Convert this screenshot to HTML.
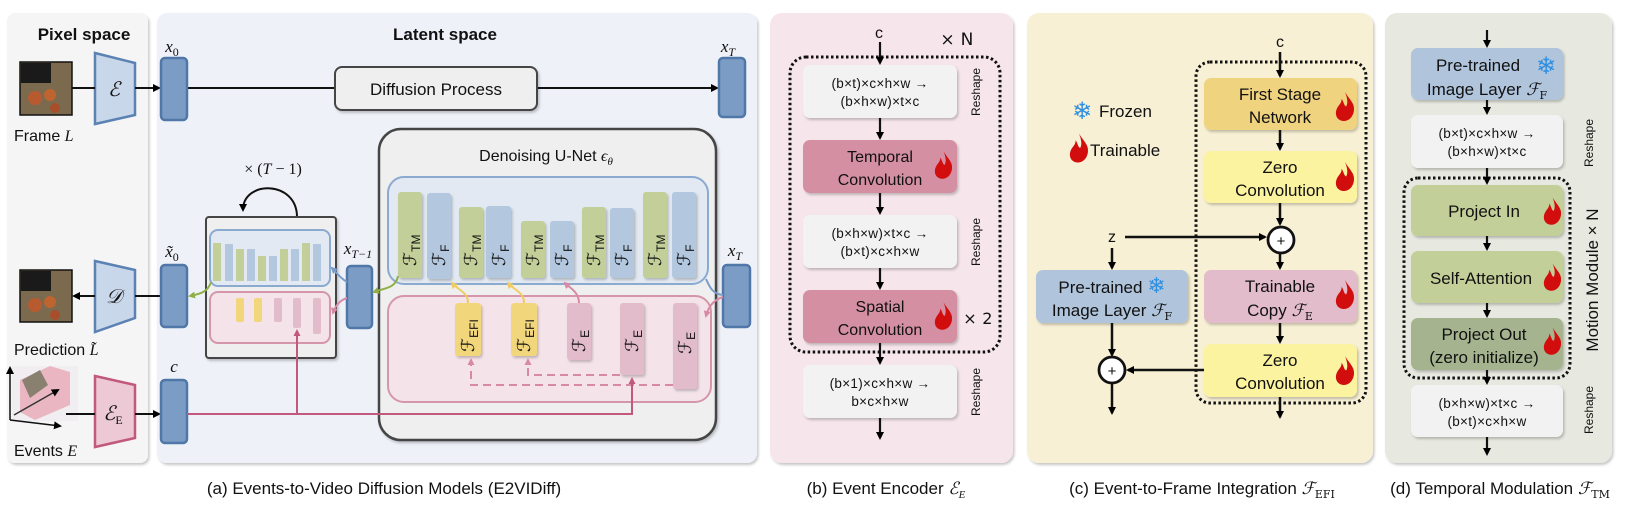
<!DOCTYPE html>
<html><head><meta charset="utf-8"><style>
html,body{margin:0;padding:0;background:#fff;}
svg{display:block;}
text{font-family:"Liberation Sans","DejaVu Sans",sans-serif;fill:#111;}
.m{font-family:"Liberation Serif","DejaVu Serif",serif;font-style:italic;}
.s{font-family:"DejaVu Serif","Liberation Serif",serif;font-style:italic;}
.r{font-family:"DejaVu Sans",sans-serif;letter-spacing:0.3px;}
</style></head><body>
<svg width="1628" height="506" viewBox="0 0 1628 506" xmlns="http://www.w3.org/2000/svg">
<defs>
<filter id="sh" x="-10%" y="-10%" width="130%" height="130%"><feDropShadow dx="1.5" dy="2" stdDeviation="1.2" flood-color="#000" flood-opacity="0.22"/></filter>
<marker id="a" markerWidth="8" markerHeight="8" refX="6" refY="4" orient="auto" markerUnits="userSpaceOnUse"><path d="M0,0 L8,4 L0,8z" fill="#000"/></marker>
<marker id="ap" markerWidth="7" markerHeight="7" refX="5" refY="3.5" orient="auto" markerUnits="userSpaceOnUse"><path d="M0,0 L7,3.5 L0,7z" fill="#c2587c"/></marker>
<marker id="apl" markerWidth="7" markerHeight="7" refX="5" refY="3.5" orient="auto" markerUnits="userSpaceOnUse"><path d="M0,0 L7,3.5 L0,7z" fill="#d88aa5"/></marker>
<marker id="ay" markerWidth="7" markerHeight="7" refX="5" refY="3.5" orient="auto" markerUnits="userSpaceOnUse"><path d="M0,0 L7,3.5 L0,7z" fill="#f0cc60"/></marker>
<marker id="ag" markerWidth="7" markerHeight="7" refX="5" refY="3.5" orient="auto" markerUnits="userSpaceOnUse"><path d="M0,0 L7,3.5 L0,7z" fill="#8faf45"/></marker>
<marker id="ab" markerWidth="7" markerHeight="7" refX="5" refY="3.5" orient="auto" markerUnits="userSpaceOnUse"><path d="M0,0 L7,3.5 L0,7z" fill="#7a9cc8"/></marker>
<symbol id="fl" viewBox="0 0 18 26"><path d="M9,0 C13,7 18,10 17,17 C16,23 12,26 8,26 C3,26 0,22 1,17 C2,12 6,11 6,6 C8,9 8,12 10,13 C12,10 11,5 9,0Z" fill="#d10d0d"/></symbol>
</defs>

<rect x="7" y="13" width="141" height="450" rx="8" fill="#f5f5f5" filter="url(#sh)"/>
<rect x="157" y="13" width="600" height="450" rx="10" fill="#eef2f8" filter="url(#sh)"/>
<rect x="770" y="13" width="243" height="450" rx="12" fill="#f6e6eb" filter="url(#sh)"/>
<rect x="1027" y="13" width="346" height="450" rx="12" fill="#f7f0d4" filter="url(#sh)"/>
<rect x="1385" y="13" width="227" height="450" rx="12" fill="#e7e9e0" filter="url(#sh)"/>

<text x="84" y="40" font-size="17" font-weight="bold" text-anchor="middle">Pixel space</text>
<text x="445" y="40" font-size="17" font-weight="bold" text-anchor="middle">Latent space</text>

<rect x="20" y="62" width="52" height="53" fill="#7b6a4e" stroke="#111" stroke-width="1.5"/>
<rect x="21" y="63" width="30" height="20" fill="#1a1a1a"/>
<circle cx="35" cy="98" r="7" fill="#b85a30"/><circle cx="50" cy="95" r="6" fill="#c0642f"/><circle cx="55" cy="108" r="5" fill="#a84e2a"/>
<rect x="20" y="270" width="52" height="52" fill="#7b6a4e" stroke="#111" stroke-width="1.5"/>
<rect x="21" y="271" width="30" height="20" fill="#1a1a1a"/>
<circle cx="35" cy="305" r="7" fill="#b85a30"/><circle cx="50" cy="302" r="6" fill="#c0642f"/><circle cx="55" cy="315" r="5" fill="#a84e2a"/>
<rect x="12" y="366" width="66" height="55" fill="#f0eef0"/>
<path d="M20,380 L50,366 L70,372 L70,405 L35,420 L20,412Z" fill="#e9a7b6" opacity="0.8"/>
<path d="M22,380 L40,370 L48,385 L30,398Z" fill="#8a8070"/>
<line x1="10" y1="420" x2="10" y2="368" stroke="#111" stroke-width="1.5" marker-end="url(#a)"/>
<line x1="10" y1="420" x2="60" y2="426" stroke="#111" stroke-width="1.5" marker-end="url(#a)"/>
<line x1="14" y1="415" x2="58" y2="390" stroke="#333" stroke-width="1.5" marker-end="url(#a)"/>

<text x="14" y="141" font-size="16">Frame <tspan class="m">L</tspan></text>
<text x="14" y="355" font-size="16">Prediction <tspan class="m">L̃</tspan></text>
<text x="14" y="456" font-size="16">Events <tspan class="m">E</tspan></text>

<polygon points="95,53 135,63 135,115 95,124" fill="#c9d7ea" stroke="#5b82b3" stroke-width="2.5"/>
<text x="114" y="96" class="m" font-size="20" text-anchor="middle">ℰ</text>
<polygon points="95,261 135,270 135,318 95,332" fill="#c9d7ea" stroke="#5b82b3" stroke-width="2.5"/>
<text x="114" y="303" class="m" font-size="20" text-anchor="middle">𝒟</text>
<polygon points="95,376 135,385 135,438 95,447" fill="#ecc9d4" stroke="#c2587c" stroke-width="2.5"/>
<text x="113" y="420" class="m" font-size="20" text-anchor="middle">ℰ<tspan font-size="12" font-style="normal" dy="4">E</tspan></text>

<line x1="72" y1="88" x2="95" y2="88" stroke="#111" stroke-width="2"/>
<line x1="135" y1="88" x2="159" y2="88" stroke="#111" stroke-width="2" marker-end="url(#a)"/>
<line x1="187" y1="88" x2="335" y2="88" stroke="#111" stroke-width="2"/>
<line x1="537" y1="88" x2="717" y2="88" stroke="#111" stroke-width="2" marker-end="url(#a)"/>
<line x1="161" y1="296" x2="135" y2="296" stroke="#111" stroke-width="2"/>
<line x1="95" y1="296" x2="74" y2="296" stroke="#111" stroke-width="2" marker-end="url(#a)"/>
<line x1="66" y1="414" x2="95" y2="414" stroke="#111" stroke-width="2"/>
<line x1="135" y1="414" x2="159" y2="414" stroke="#111" stroke-width="2" marker-end="url(#a)"/>

<rect x="335" y="67" width="202" height="43" rx="7" fill="#efefef" stroke="#444" stroke-width="2" filter="url(#sh)"/>
<text x="436" y="95" font-size="17" text-anchor="middle">Diffusion Process</text>

<g fill="#7b9cc4" stroke="#4f77a8" stroke-width="2.5">
<rect x="161" y="58" width="26" height="62" rx="4"/>
<rect x="719" y="58" width="26" height="59" rx="4"/>
<rect x="161" y="265" width="26" height="62" rx="4"/>
<rect x="161" y="380" width="26" height="63" rx="4"/>
<rect x="347" y="266" width="25" height="62" rx="4"/>
<rect x="723" y="265" width="27" height="62" rx="4"/>
</g>
<text x="172" y="52" class="m" font-size="17" text-anchor="middle">x<tspan font-size="12" font-style="normal" dy="4">0</tspan></text>
<text x="728" y="52" class="m" font-size="17" text-anchor="middle">x<tspan font-size="12" dy="4">T</tspan></text>
<text x="172" y="257" class="m" font-size="17" text-anchor="middle">x̃<tspan font-size="12" font-style="normal" dy="4">0</tspan></text>
<text x="174" y="372" class="m" font-size="17" text-anchor="middle">c</text>
<text x="358" y="254" class="m" font-size="17" text-anchor="middle">x<tspan font-size="12" dy="4">T−1</tspan></text>
<text x="735" y="256" class="m" font-size="17" text-anchor="middle">x<tspan font-size="12" dy="4">T</tspan></text>

<text x="273" y="174" font-size="16" text-anchor="middle" class="m"><tspan font-style="normal">× (</tspan>T<tspan font-style="normal"> − 1)</tspan></text>
<path d="M297,217 C297,180 243,180 243,210" fill="none" stroke="#111" stroke-width="2" marker-end="url(#a)"/>
<rect x="206" y="217" width="130" height="141" rx="3" fill="#efefef" stroke="#444" stroke-width="2" filter="url(#sh)"/>
<rect x="210" y="230" width="120" height="56" rx="8" fill="#e2e9f2" stroke="#8aaad0" stroke-width="2"/>
<rect x="210" y="292" width="120" height="51" rx="8" fill="#f5e3ea" stroke="#d596ab" stroke-width="2"/>
<g>
<rect x="213" y="243" width="8" height="38" fill="#c2cf98"/><rect x="225" y="244" width="8" height="37" fill="#b3c7de"/>
<rect x="236" y="249" width="8" height="32" fill="#c2cf98"/><rect x="247" y="249" width="8" height="32" fill="#b3c7de"/>
<rect x="258" y="256" width="8" height="25" fill="#c2cf98"/><rect x="269" y="256" width="8" height="25" fill="#b3c7de"/>
<rect x="280" y="249" width="8" height="32" fill="#c2cf98"/><rect x="291" y="249" width="8" height="32" fill="#b3c7de"/>
<rect x="302" y="243" width="8" height="38" fill="#c2cf98"/><rect x="313" y="244" width="8" height="37" fill="#b3c7de"/>
<rect x="236" y="298" width="8" height="24" rx="2" fill="#f2d67c"/><rect x="254" y="298" width="8" height="24" rx="2" fill="#f2d67c"/>
<rect x="274" y="298" width="8" height="24" rx="2" fill="#e3bccb"/><rect x="293" y="298" width="8" height="30" rx="2" fill="#e3bccb"/>
<rect x="313" y="298" width="8" height="36" rx="2" fill="#e3bccb"/>
</g>

<rect x="379" y="129" width="337" height="311" rx="22" fill="#efefef" stroke="#444" stroke-width="2.5" filter="url(#sh)"/>
<text x="546" y="161" font-size="16" text-anchor="middle">Denoising U-Net <tspan class="m">ϵ<tspan font-size="11" dy="4">θ</tspan></tspan></text>
<rect x="388" y="177" width="320" height="107" rx="16" fill="#e2e9f2" stroke="#8aaad0" stroke-width="2"/>
<rect x="388" y="296" width="323" height="106" rx="16" fill="#f5e3ea" stroke="#d596ab" stroke-width="2"/>
<g filter="url(#sh)">
<rect x="398" y="192" width="24" height="86" rx="3" fill="#c2cf98"/><rect x="427" y="193" width="24" height="86" rx="3" fill="#b3c7de"/>
<rect x="459" y="207" width="24" height="71" rx="3" fill="#c2cf98"/><rect x="486" y="206" width="25" height="72" rx="3" fill="#b3c7de"/>
<rect x="521" y="221" width="24" height="57" rx="3" fill="#c2cf98"/><rect x="550" y="221" width="24" height="57" rx="3" fill="#b3c7de"/>
<rect x="582" y="207" width="24" height="71" rx="3" fill="#c2cf98"/><rect x="610" y="208" width="24" height="70" rx="3" fill="#b3c7de"/>
<rect x="643" y="192" width="24" height="86" rx="3" fill="#c2cf98"/><rect x="672" y="192" width="24" height="86" rx="3" fill="#b3c7de"/>
<rect x="455" y="303" width="26" height="53" rx="3" fill="#f2d67c"/><rect x="511" y="303" width="26" height="53" rx="3" fill="#f2d67c"/>
<rect x="567" y="303" width="24" height="57" rx="3" fill="#e3bccb"/><rect x="620" y="303" width="24" height="72" rx="3" fill="#e3bccb"/>
<rect x="673" y="303" width="24" height="86" rx="3" fill="#e3bccb"/>
</g>
<g font-size="18" class="s">
<text transform="translate(416,266) rotate(-90)">ℱ<tspan font-size="12" font-style="normal" dy="4">TM</tspan></text>
<text transform="translate(445,266) rotate(-90)">ℱ<tspan font-size="12" font-style="normal" dy="4">F</tspan></text>
<text transform="translate(477,266) rotate(-90)">ℱ<tspan font-size="12" font-style="normal" dy="4">TM</tspan></text>
<text transform="translate(505,266) rotate(-90)">ℱ<tspan font-size="12" font-style="normal" dy="4">F</tspan></text>
<text transform="translate(539,266) rotate(-90)">ℱ<tspan font-size="12" font-style="normal" dy="4">TM</tspan></text>
<text transform="translate(568,266) rotate(-90)">ℱ<tspan font-size="12" font-style="normal" dy="4">F</tspan></text>
<text transform="translate(600,266) rotate(-90)">ℱ<tspan font-size="12" font-style="normal" dy="4">TM</tspan></text>
<text transform="translate(628,266) rotate(-90)">ℱ<tspan font-size="12" font-style="normal" dy="4">F</tspan></text>
<text transform="translate(661,266) rotate(-90)">ℱ<tspan font-size="12" font-style="normal" dy="4">TM</tspan></text>
<text transform="translate(690,266) rotate(-90)">ℱ<tspan font-size="12" font-style="normal" dy="4">F</tspan></text>
<text transform="translate(474,352) rotate(-90)">ℱ<tspan font-size="12" font-style="normal" dy="4">EFI</tspan></text>
<text transform="translate(530,352) rotate(-90)">ℱ<tspan font-size="12" font-style="normal" dy="4">EFI</tspan></text>
<text transform="translate(585,352) rotate(-90)">ℱ<tspan font-size="12" font-style="normal" dy="4">E</tspan></text>
<text transform="translate(638,352) rotate(-90)">ℱ<tspan font-size="12" font-style="normal" dy="4">E</tspan></text>
<text transform="translate(691,354) rotate(-90)">ℱ<tspan font-size="12" font-style="normal" dy="4">E</tspan></text>
</g>
<path d="M468,303 C468,292 458,290 452,283" fill="none" stroke="#f0cc60" stroke-width="2" marker-end="url(#ay)"/>
<path d="M524,303 C524,292 514,290 508,283" fill="none" stroke="#f0cc60" stroke-width="2" marker-end="url(#ay)"/>
<path d="M579,303 C579,292 570,288 565,283" fill="none" stroke="#d88aa5" stroke-width="2" marker-end="url(#apl)"/>
<path d="M620,375 L528,375 L528,360" fill="none" stroke="#d88aa5" stroke-width="2" stroke-dasharray="8,5" marker-end="url(#apl)"/>
<path d="M673,385 L471,385 L471,360" fill="none" stroke="#d88aa5" stroke-width="2" stroke-dasharray="8,5" marker-end="url(#apl)"/>
<path d="M187,414 L632,414 L632,379" fill="none" stroke="#c2587c" stroke-width="2" marker-end="url(#ap)"/>
<path d="M297,414 L297,331" fill="none" stroke="#c2587c" stroke-width="2" marker-end="url(#ap)"/>
<path d="M398,276 C396,288 385,288 374,292" fill="none" stroke="#8faf45" stroke-width="2" marker-end="url(#ag)"/>
<path d="M211,282 C208,292 200,294 190,296" fill="none" stroke="#8faf45" stroke-width="2" marker-end="url(#ag)"/>
<path d="M347,282 C340,278 336,272 332,268" fill="none" stroke="#7a9cc8" stroke-width="2" marker-end="url(#ab)"/>
<path d="M347,298 C340,300 335,306 333,313" fill="none" stroke="#d88aa5" stroke-width="2" marker-end="url(#apl)"/>
<path d="M723,295 C713,294 710,288 706,279" fill="none" stroke="#7a9cc8" stroke-width="2"/>
<path d="M723,297 C713,300 708,308 706,316" fill="none" stroke="#d88aa5" stroke-width="2" marker-end="url(#apl)"/>

<text x="879" y="38" font-size="16" text-anchor="middle">c</text>
<text x="957" y="45" font-size="17" text-anchor="middle" class="r">× N</text>
<rect x="790" y="57" width="210" height="295" rx="16" fill="none" stroke="#111" stroke-width="3" stroke-dasharray="2.5,2.5"/>
<g filter="url(#sh)">
<rect x="803" y="65" width="154" height="53" rx="7" fill="#f2f2f2"/>
<rect x="803" y="140" width="154" height="53" rx="7" fill="#d48fa2"/>
<rect x="803" y="215" width="154" height="53" rx="7" fill="#f2f2f2"/>
<rect x="803" y="290" width="154" height="53" rx="7" fill="#d48fa2"/>
<rect x="803" y="365" width="154" height="53" rx="7" fill="#f2f2f2"/>
</g>
<g font-size="13.5" text-anchor="middle" class="r">
<text x="880" y="88">(b×t)×c×h×w →</text><text x="880" y="106">(b×h×w)×t×c</text>
<text x="880" y="238">(b×h×w)×t×c →</text><text x="880" y="256">(b×t)×c×h×w</text>
<text x="880" y="388">(b×1)×c×h×w →</text><text x="880" y="406">b×c×h×w</text>
</g>
<g font-size="16" text-anchor="middle">
<text x="880" y="162">Temporal</text><text x="880" y="185">Convolution</text>
<text x="880" y="312">Spatial</text><text x="880" y="335">Convolution</text>
</g>
<use href="#fl" x="934" y="151" width="19" height="28"/>
<use href="#fl" x="934" y="302" width="19" height="28"/>
<text x="978" y="324" font-size="16" text-anchor="middle" class="r">× 2</text>
<g font-size="12" text-anchor="middle">
<text transform="translate(980,92) rotate(-90)">Reshape</text>
<text transform="translate(980,242) rotate(-90)">Reshape</text>
<text transform="translate(980,392) rotate(-90)">Reshape</text>
</g>
<g stroke="#111" stroke-width="2.2">
<line x1="880" y1="42" x2="880" y2="63" marker-end="url(#a)"/>
<line x1="880" y1="118" x2="880" y2="138" marker-end="url(#a)"/>
<line x1="880" y1="193" x2="880" y2="213" marker-end="url(#a)"/>
<line x1="880" y1="268" x2="880" y2="288" marker-end="url(#a)"/>
<line x1="880" y1="343" x2="880" y2="363" marker-end="url(#a)"/>
<line x1="880" y1="418" x2="880" y2="438" marker-end="url(#a)"/>
</g>

<text x="1280" y="47" font-size="16" text-anchor="middle">c</text>
<rect x="1196" y="62" width="170" height="341" rx="14" fill="none" stroke="#111" stroke-width="3" stroke-dasharray="2.5,2.5"/>
<text x="1082" y="119" font-size="24" text-anchor="middle" style="fill:#2f8fe0">❄</text>
<text x="1099" y="117" font-size="17">Frozen</text>
<use href="#fl" x="1069" y="133" width="20" height="30"/>
<text x="1090" y="156" font-size="17">Trainable</text>
<g filter="url(#sh)">
<rect x="1204" y="78" width="153" height="52" rx="7" fill="#f0d37e"/>
<rect x="1204" y="151" width="153" height="52" rx="7" fill="#fcf3a0"/>
<rect x="1204" y="270" width="153" height="53" rx="7" fill="#e3bccb"/>
<rect x="1204" y="344" width="153" height="53" rx="7" fill="#fcf3a0"/>
<rect x="1036" y="270" width="152" height="53" rx="7" fill="#b0c4dc"/>
</g>
<g font-size="17" text-anchor="middle">
<text x="1280" y="100">First Stage</text><text x="1280" y="123">Network</text>
<text x="1280" y="173">Zero</text><text x="1280" y="196">Convolution</text>
<text x="1280" y="292">Trainable</text><text x="1280" y="316">Copy <tspan class="s">ℱ<tspan font-size="11" font-style="normal" dy="4">E</tspan></tspan></text>
<text x="1280" y="366">Zero</text><text x="1280" y="389">Convolution</text>
<text x="1112" y="293">Pre-trained <tspan font-size="22" style="fill:#2f8fe0">❄</tspan></text>
<text x="1112" y="316">Image Layer <tspan class="s">ℱ<tspan font-size="11" font-style="normal" dy="4">F</tspan></tspan></text>
</g>
<use href="#fl" x="1335" y="92" width="20" height="29"/>
<use href="#fl" x="1335" y="162" width="20" height="29"/>
<use href="#fl" x="1335" y="280" width="20" height="29"/>
<use href="#fl" x="1335" y="356" width="20" height="29"/>
<text x="1112" y="242" font-size="16" text-anchor="middle">z</text>
<g stroke="#111" stroke-width="2.5" fill="none">
<line x1="1280" y1="52" x2="1280" y2="76" marker-end="url(#a)"/>
<line x1="1280" y1="130" x2="1280" y2="149" marker-end="url(#a)"/>
<line x1="1280" y1="203" x2="1280" y2="224" marker-end="url(#a)"/>
<line x1="1280" y1="254" x2="1280" y2="268" marker-end="url(#a)"/>
<line x1="1280" y1="323" x2="1280" y2="342" marker-end="url(#a)"/>
<line x1="1280" y1="397" x2="1280" y2="417" marker-end="url(#a)"/>
<line x1="1125" y1="237" x2="1265" y2="237" marker-end="url(#a)"/>
<line x1="1112" y1="248" x2="1112" y2="268" marker-end="url(#a)"/>
<line x1="1112" y1="323" x2="1112" y2="355" marker-end="url(#a)"/>
<line x1="1204" y1="370" x2="1128" y2="370" marker-end="url(#a)"/>
<line x1="1112" y1="384" x2="1112" y2="413" marker-end="url(#a)"/>
<circle cx="1281" cy="240" r="13" fill="#fff" stroke-width="2.8"/>
<circle cx="1112" cy="370" r="13" fill="#fff" stroke-width="2.8"/>
</g>
<text x="1281" y="246" font-size="15" text-anchor="middle">+</text>
<text x="1112" y="376" font-size="15" text-anchor="middle">+</text>

<rect x="1404" y="178" width="166" height="200" rx="14" fill="none" stroke="#111" stroke-width="3" stroke-dasharray="2.5,2.5"/>
<g filter="url(#sh)">
<rect x="1411" y="48" width="152" height="52" rx="7" fill="#b0c4dc"/>
<rect x="1411" y="115" width="152" height="53" rx="7" fill="#f2f2f2"/>
<rect x="1411" y="185" width="152" height="51" rx="7" fill="#c3cf98"/>
<rect x="1411" y="251" width="152" height="52" rx="7" fill="#c3cf98"/>
<rect x="1411" y="318" width="152" height="52" rx="7" fill="#a5b48f"/>
<rect x="1411" y="385" width="152" height="52" rx="7" fill="#f2f2f2"/>
</g>
<g font-size="17" text-anchor="middle">
<text x="1478" y="71">Pre-trained</text>
<text x="1487" y="95">Image Layer <tspan class="s">ℱ<tspan font-size="11" font-style="normal" dy="4">F</tspan></tspan></text>
<text x="1484" y="217">Project In</text>
<text x="1481" y="284">Self-Attention</text>
<text x="1484" y="340">Project Out</text>
<text x="1484" y="363">(zero initialize)</text>
</g>
<text x="1546" y="74" font-size="24" style="fill:#2f8fe0" text-anchor="middle">❄</text>
<g font-size="13.5" text-anchor="middle" class="r">
<text x="1487" y="138">(b×t)×c×h×w →</text><text x="1487" y="156">(b×h×w)×t×c</text>
<text x="1487" y="408">(b×h×w)×t×c →</text><text x="1487" y="426">(b×t)×c×h×w</text>
</g>
<use href="#fl" x="1543" y="197" width="19" height="28"/>
<use href="#fl" x="1543" y="263" width="19" height="28"/>
<use href="#fl" x="1543" y="327" width="19" height="28"/>
<g font-size="12" text-anchor="middle">
<text transform="translate(1593,143) rotate(-90)">Reshape</text>
<text transform="translate(1593,410) rotate(-90)">Reshape</text>
</g>
<text transform="translate(1598,280) rotate(-90)" font-size="17" text-anchor="middle">Motion Module × N</text>
<g stroke="#111" stroke-width="2.2">
<line x1="1487" y1="30" x2="1487" y2="46" marker-end="url(#a)"/>
<line x1="1487" y1="100" x2="1487" y2="113" marker-end="url(#a)"/>
<line x1="1487" y1="168" x2="1487" y2="183" marker-end="url(#a)"/>
<line x1="1487" y1="236" x2="1487" y2="249" marker-end="url(#a)"/>
<line x1="1487" y1="303" x2="1487" y2="316" marker-end="url(#a)"/>
<line x1="1487" y1="370" x2="1487" y2="383" marker-end="url(#a)"/>
<line x1="1487" y1="437" x2="1487" y2="454" marker-end="url(#a)"/>
</g>

<g font-size="17" text-anchor="middle">
<text x="384" y="494">(a) Events-to-Video Diffusion Models (E2VIDiff)</text>
<text x="886" y="494">(b) Event Encoder <tspan class="m">ℰ<tspan font-size="11" dy="4">E</tspan></tspan></text>
<text x="1202" y="494">(c) Event-to-Frame Integration <tspan class="s">ℱ<tspan font-size="11" font-style="normal" dy="4">EFI</tspan></tspan></text>
<text x="1500" y="494">(d) Temporal Modulation <tspan class="s">ℱ<tspan font-size="11" font-style="normal" dy="4">TM</tspan></tspan></text>
</g>
</svg>
</body></html>
